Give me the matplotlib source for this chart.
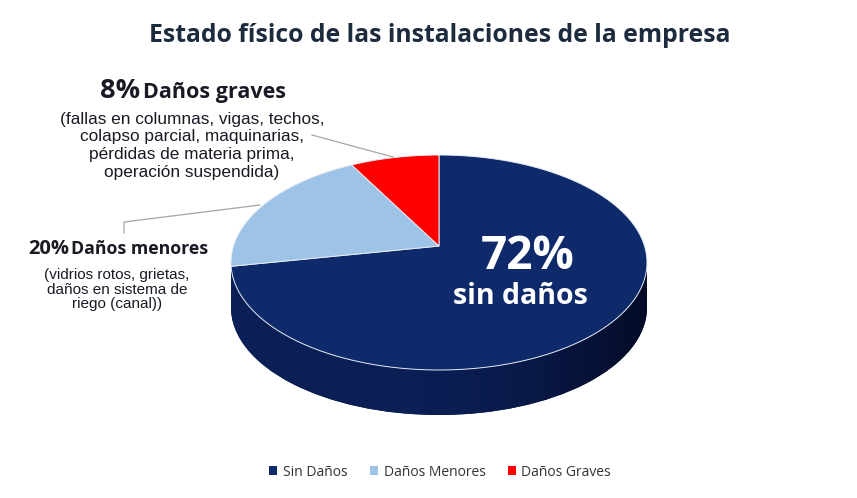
import numpy as np
import matplotlib
matplotlib.use("Agg")
import matplotlib.pyplot as plt
from matplotlib.patches import Ellipse, Rectangle, PathPatch
from matplotlib.path import Path
from matplotlib.transforms import Transform, Affine2D

# ---- data ----
categories = ["Sin Daños", "Daños Menores", "Daños Graves"]
values = [72, 20, 8]
colors = ["#0f2a6b", "#9dc3e6", "#ff0000"]
title = "Estado físico de las instalaciones de la empresa"
label_graves_pct = "8%"
label_graves_head = "Daños graves"
label_graves_lines = ["(fallas en columnas, vigas, techos,",
                      "colapso parcial, maquinarias,",
                      "pérdidas de materia prima,",
                      "operación suspendida)"]
label_menores_pct = "20%"
label_menores_head = "Daños menores"
label_menores_lines = ["(vidrios rotos, grietas,",
                       "daños en sistema de",
                       "riego (canal))"]
label_sin_pct = "72%"
label_sin_head = "sin daños"


class Tilt(Transform):
    """Projective map of the unit disc onto itself (perspective tilt of the pie top)."""
    input_dims = 2
    output_dims = 2
    is_separable = False
    has_inverse = False

    def __init__(self, b):
        super().__init__()
        self.b = b

    def transform_non_affine(self, xy):
        xy = np.asarray(xy, float)
        x, y = xy[:, 0], xy[:, 1]
        den = 1 + self.b * y
        return np.column_stack([x * np.sqrt(1 - self.b ** 2) / den, (y + self.b) / den])

    def transform_path_non_affine(self, path):
        s = 800.0
        polys = path.to_polygons(transform=Affine2D().scale(s), closed_only=True)
        verts, codes = [], []
        for p in polys:
            q = self.transform_non_affine(np.asarray(p) / s)
            verts.append(q)
            codes += [Path.MOVETO] + [Path.LINETO] * (len(q) - 1)
        return Path(np.concatenate(verts), codes)


W, H = 857, 498
fig = plt.figure(figsize=(W / 100, H / 100), dpi=100)
fig.patch.set_facecolor("white")

# overlay axes in pixel coords
ax0 = fig.add_axes([0, 0, 1, 1])
ax0.set_xlim(0, W)
ax0.set_ylim(H, 0)
ax0.axis("off")

# pie axes geometry (pixels)
left, right, top, bot_face, bot_side = 231, 647, 155, 370, 415
ry = (bot_face - top) / 2
d = (bot_side - bot_face) / ry
axp = fig.add_axes([left / W, (H - bot_side) / H, (right - left) / W, (bot_side - top) / H])
axp.set_zorder(1)

# side of the cylinder
side_col = "#0a1d50"
e = Ellipse((0, -d), 2, 2, facecolor=side_col, edgecolor="none", zorder=1)
r = Rectangle((-1, -d), 2, d, facecolor=side_col, edgecolor="none", zorder=1)
axp.add_patch(e)
axp.add_patch(r)
clip = Path.make_compound_path(e.get_path().transformed(e.get_patch_transform()),
                               r.get_path().transformed(r.get_patch_transform()))
clip_patch = PathPatch(clip, transform=axp.transData, facecolor="none", edgecolor="none")
axp.add_patch(clip_patch)
xs = np.linspace(-1, 1, 300)
c_left = np.array([0x0c, 0x20, 0x58]) / 255
c_mid = np.array([0x0b, 0x1f, 0x55]) / 255
c_right = np.array([0x03, 0x0b, 0x26]) / 255
t = (xs + 1) / 2
grad = np.where(t[:, None] < 0.45,
                c_left + (c_mid - c_left) * (t[:, None] / 0.45),
                c_mid + (c_right - c_mid) * ((t[:, None] - 0.45) / 0.55) ** 1.6)
img = np.tile(grad[None, :, :], (50, 1, 1))
im = axp.imshow(img, extent=[-1, 1, -1 - d, 0], aspect="auto", zorder=2, interpolation="bilinear")
im.set_clip_path(clip_patch)

wedges, _ = axp.pie(values, colors=colors, startangle=90, counterclock=False, radius=1,
                    wedgeprops=dict(edgecolor="#e8eef6", linewidth=0.7, zorder=3))
tilt = Tilt(0.153)
for w_ in wedges:
    w_.set_zorder(3)
    w_.set_transform(tilt + axp.transData)
axp.set_aspect("auto")
axp.set_xlim(-1, 1)
axp.set_ylim(-1 - d, 1)
axp.axis("off")

# title
ax0.text(440, 35, title, ha="center", va="center", fontsize=17.8, fontweight="bold",
         color="#1d2b3e", family="Open Sans")

# 72% label
ax0.text(528, 256, label_sin_pct, ha="center", va="center", fontsize=33, fontweight="bold",
         color="white", family="Open Sans", zorder=5)
ax0.text(520, 296, label_sin_head, ha="center", va="center", fontsize=20.5, fontweight="bold",
         color="white", family="Open Sans", zorder=5)
ax0.set_zorder(2)
ax0.patch.set_alpha(0)

txtc = "#1a1a26"
# graves label
ax0.text(140, 91, label_graves_pct, ha="right", va="center", fontsize=19.5, fontweight="bold",
         color=txtc, family="Open Sans")
ax0.text(143, 92, label_graves_head, ha="left", va="center", fontsize=15.5, fontweight="bold",
         color=txtc, family="Open Sans")
for i, s in enumerate(label_graves_lines):
    ax0.text(192, 119 + i * 17.8, s, ha="center", va="center", fontsize=12.4,
             color=txtc, family="Liberation Sans")

# menores label
ax0.text(69, 249, label_menores_pct, ha="right", va="center", fontsize=14.5, fontweight="bold",
         color=txtc, family="Open Sans")
ax0.text(71, 249, label_menores_head, ha="left", va="center", fontsize=12.8, fontweight="bold",
         color=txtc, family="Open Sans")
for i, s in enumerate(label_menores_lines):
    ax0.text(117, 275 + i * 14.5, s, ha="center", va="center", fontsize=11,
             color=txtc, family="Liberation Sans")

# leader lines
ax0.plot([312, 393], [135, 157], color="#a6a6a6", lw=0.9)
ax0.plot([124, 124, 260], [233, 222, 205], color="#a6a6a6", lw=0.9)

# legend
leg = fig.legend(wedges, categories, loc="center", bbox_to_anchor=(440 / W, 1 - 472 / H),
                 ncol=3, frameon=False, handlelength=0.6, handleheight=0.6,
                 handletextpad=0.4, columnspacing=1.6,
                 prop={"family": "Open Sans", "size": 10})
for h in leg.legend_handles:
    h.set_edgecolor("none")
for tx in leg.get_texts():
    tx.set_color("#333333")

fig.savefig("out.png", dpi=100, facecolor="white")
